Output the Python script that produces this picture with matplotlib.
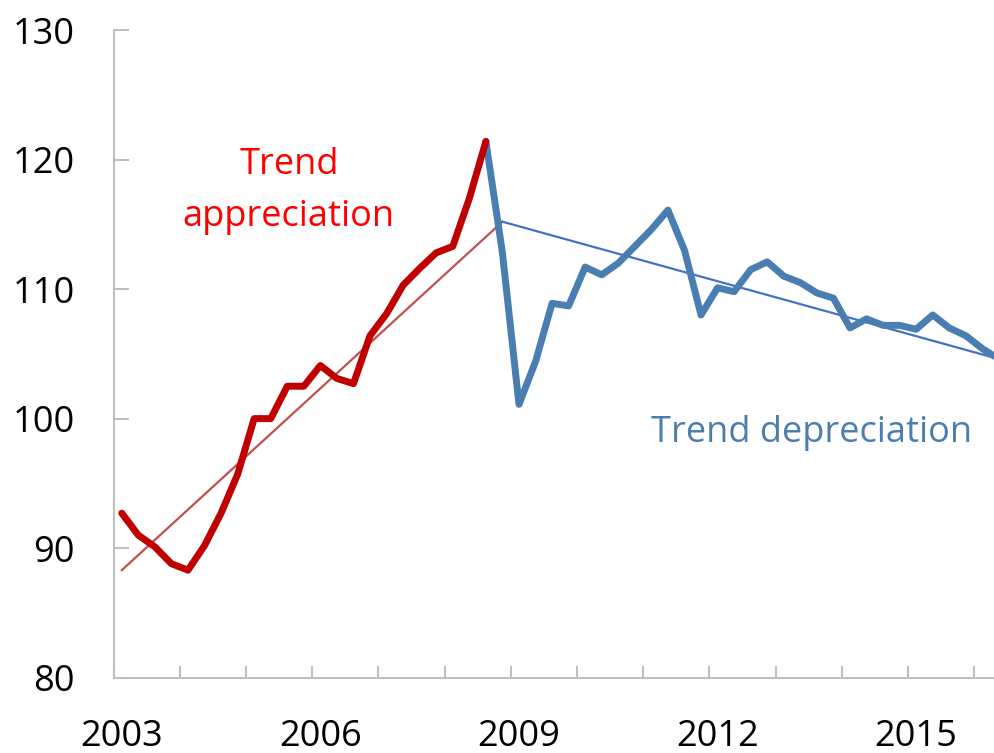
import matplotlib
matplotlib.use("Agg")
import matplotlib.pyplot as plt
import numpy as np

# Quarterly index, 2003Q1 onward
appreciation = [92.7, 91.0, 90.1, 88.8, 88.3, 90.2, 92.7, 95.7, 100.0, 100.0,
                102.5, 102.5, 104.1, 103.1, 102.7, 106.4, 108.1, 110.3, 111.6,
                112.8, 113.3, 117.0, 121.4]
depreciation = [121.4, 112.8, 101.1, 104.4, 108.9, 108.7, 111.7, 111.1, 112.0,
                113.3, 114.6, 116.1, 113.0, 108.0, 110.1, 109.8, 111.5, 112.1,
                111.0, 110.5, 109.7, 109.3, 107.0, 107.7, 107.2, 107.2, 106.9,
                108.0, 107.0, 106.4, 105.4, 104.6]
dep_start = 22  # quarter index where depreciation series begins

trend_up_x = [0, 23]
trend_up_y = [88.3, 115.2]
trend_down_x = [23, 53]
trend_down_y = [115.2, 104.6]

year_labels = ["2003", "2006", "2009", "2012", "2015"]
label_quarters = [0, 12, 24, 36, 48]
y_ticks = [80, 90, 100, 110, 120, 130]

FONT = "Open Sans"
plt.rcParams['font.family'] = [FONT, 'DejaVu Sans']

fig = plt.figure(figsize=(9.94, 7.53), dpi=100)
ax = fig.add_axes([113.5/994, 1 - 677.7/753, 1 - 113.5/994, (677.7 - 30)/753])

x_app = np.arange(len(appreciation))
x_dep = np.arange(dep_start, dep_start + len(depreciation))

ax.plot(trend_up_x, trend_up_y, color="#C0504D", lw=1.6, zorder=2)
ax.plot(trend_down_x, trend_down_y, color="#4472C4", lw=1.6, zorder=2)
ax.plot(x_dep, depreciation, color="#4A7EB0", lw=5, solid_capstyle="round",
        solid_joinstyle="round", zorder=3)
ax.plot(x_app, appreciation, color="#C00000", lw=5, solid_capstyle="round",
        solid_joinstyle="round", zorder=4)

for s in ["top", "right"]:
    ax.spines[s].set_visible(False)
for s in ["left", "bottom"]:
    ax.spines[s].set_color("#BFBFBF")
    ax.spines[s].set_linewidth(1.5)

ax.set_yticks(y_ticks)
ax.set_yticklabels([str(v) for v in y_ticks])
ax.tick_params(axis="y", direction="in", length=11, width=1.5, color="#BFBFBF",
               labelsize=26, pad=28, labelcolor="black")

ax.set_xticks(np.arange(-0.5, 56, 4))
ax.set_xticklabels([])
ax.tick_params(axis="x", which="major", direction="in", length=9, width=1.5,
               color="#BFBFBF")
ax.set_xticks(label_quarters, minor=True)
ax.set_xticklabels(year_labels, minor=True)
ax.tick_params(axis="x", which="minor", length=0, labelsize=26, pad=30,
               labelcolor="black")

q_w = 16.55
ax.set_xlim(-0.5, -0.5 + (994 - 113.5) / q_w)
ax.set_ylim(80, 130)

ax.text(10.1, 118.9, "Trend", color="#FF0000", fontsize=26,
        ha="center", va="baseline")
ax.text(10.1, 114.9, "appreciation", color="#FF0000", fontsize=26,
        ha="center", va="baseline")
ax.text(41.7, 98.2, "Trend depreciation", color="#4A7EB0", fontsize=26,
        ha="center", va="baseline")

fig.savefig("out.png", dpi=100)
